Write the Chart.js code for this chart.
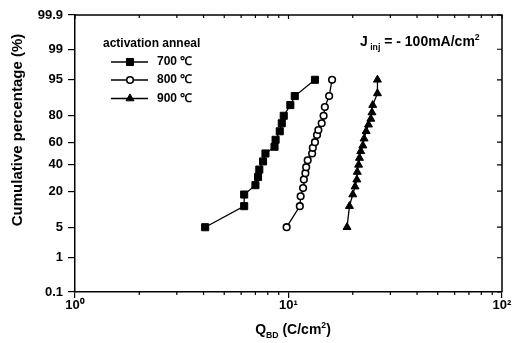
<!DOCTYPE html>
<html>
<head>
<meta charset="utf-8">
<script src="https://cdn.jsdelivr.net/npm/chart.js"></script>
<style>
html, body { margin: 0; padding: 0; background: #fff; }
</style>
</head>
<body>
<canvas id="grafico" width="519" height="343"></canvas>
<script>
// datos (Q_BD en C/cm2, porcentaje acumulado)
const x700 = [4.07, 6.2, 6.2, 7.0, 7.2, 7.3, 7.6, 7.8, 8.6, 8.7, 9.1, 9.3, 9.5, 10.2, 10.7, 13.3];
const y700 = [5, 12, 18, 24, 30, 36, 43, 50, 56, 62, 69, 75, 80, 86, 90, 95];

const x800 = [9.8, 11.3, 11.4, 11.7, 11.8, 12.0, 12.1, 12.3, 12.9, 13.0, 13.3, 13.6, 13.8, 14.3, 14.6, 14.8, 15.5, 16.0];
const y800 = [5, 12, 17, 22, 28, 33, 38, 44, 50, 55, 60, 66, 70, 75, 80, 85, 90, 95];

const x900 = [18.8, 19.3, 20.0, 20.5, 20.9, 21.0, 21.3, 21.5, 21.8, 22.3, 22.6, 23.1, 23.7, 24.3, 24.6, 24.8, 26.1, 26.1];
const y900 = [5, 12, 18, 23, 28, 34, 40, 46, 52, 57, 63, 69, 74, 78, 82, 86, 91, 95];

const etiquetas = ['700 \u2103', '800 \u2103', '900 \u2103'];
const yTicks = [0.1, 1, 5, 20, 40, 60, 80, 95, 99, 99.9];
const xTicks = [1, 10, 100];
const xTickLabels = ['10\u2070', '10\u00b9', '10\u00b2'];
const xMinor = [2, 3, 4, 5, 6, 7, 8, 9, 20, 30, 40, 50, 60, 70, 80, 90];

const FUENTE = '"Liberation Sans", Arial, sans-serif';

// inversa de la normal (Acklam)
function probit(p) {
    const a = [-3.969683028665376e+01, 2.209460984245205e+02, -2.759285104469687e+02, 1.383577518672690e+02, -3.066479806614716e+01, 2.506628277459239e+00];
    const b = [-5.447609879822406e+01, 1.615858368580409e+02, -1.556989798598866e+02, 6.680131188771972e+01, -1.328068155288572e+01];
    const c = [-7.784894002430293e-03, -3.223964580411365e-01, -2.400758277161838e+00, -2.549732539343734e+00, 4.374664141464968e+00, 2.938163982698783e+00];
    const d = [7.784695709041462e-03, 3.224671290700398e-01, 2.445134137142996e+00, 3.754408661907416e+00];
    const pl = 0.02425;
    let q, r;
    if (p < pl) {
        q = Math.sqrt(-2 * Math.log(p));
        return (((((c[0]*q+c[1])*q+c[2])*q+c[3])*q+c[4])*q+c[5]) / ((((d[0]*q+d[1])*q+d[2])*q+d[3])*q+1);
    }
    if (p > 1 - pl) {
        q = Math.sqrt(-2 * Math.log(1 - p));
        return -(((((c[0]*q+c[1])*q+c[2])*q+c[3])*q+c[4])*q+c[5]) / ((((d[0]*q+d[1])*q+d[2])*q+d[3])*q+1);
    }
    q = p - 0.5; r = q * q;
    return (((((a[0]*r+a[1])*r+a[2])*r+a[3])*r+a[4])*r+a[5])*q / (((((b[0]*r+b[1])*r+b[2])*r+b[3])*r+b[4])*r+1);
}

function normCdf(z) {
    const t = 1 / (1 + 0.2316419 * Math.abs(z));
    const dd = 0.3989423 * Math.exp(-z * z / 2);
    let p = dd * t * (0.3193815 + t * (-0.3565638 + t * (1.781478 + t * (-1.821256 + t * 1.330274))));
    return z > 0 ? 1 - p : p;
}

// escala de probabilidad normal
class ProbitScale extends Chart.Scale {
    determineDataLimits() {
        this.min = this.options.min;
        this.max = this.options.max;
    }
    buildTicks() {
        return yTicks.map(v => ({ value: v }));
    }
    configure() {
        super.configure();
        this._zMin = probit(this.min / 100);
        this._zMax = probit(this.max / 100);
    }
    getPixelForValue(v) {
        return this.getPixelForDecimal((probit(v / 100) - this._zMin) / (this._zMax - this._zMin));
    }
    getValueForPixel(px) {
        const dec = this.getDecimalForPixel(px);
        return 100 * normCdf(this._zMin + dec * (this._zMax - this._zMin));
    }
}
ProbitScale.id = 'probit';
ProbitScale.defaults = {};
Chart.register(ProbitScale);

function puntos(xs, ys) {
    return xs.map((x, i) => ({ x: x, y: ys[i] }));
}

// texto con sub/superindices
function textoRico(ctx, partes, x, y, size, align) {
    let total = 0;
    partes.forEach(p => {
        ctx.font = 'bold ' + (p.s ? size * 0.62 : size) + 'px ' + FUENTE;
        total += ctx.measureText(p.t).width;
    });
    let cx = align === 'center' ? x - total / 2 : x;
    ctx.textBaseline = 'alphabetic';
    ctx.textAlign = 'left';
    partes.forEach(p => {
        ctx.font = 'bold ' + (p.s ? size * 0.62 : size) + 'px ' + FUENTE;
        let dy = 0;
        if (p.s === 'sub') dy = size * 0.25;
        if (p.s === 'sup') dy = -size * 0.42;
        ctx.fillText(p.t, cx, y + dy);
        cx += ctx.measureText(p.t).width;
    });
}

const marco = {
    id: 'marco',
    afterDraw(chart) {
        const ctx = chart.ctx;
        const { left, right, top, bottom } = chart.chartArea;
        const xs = chart.scales.x, ys = chart.scales.y;
        ctx.save();
        ctx.strokeStyle = '#000';
        ctx.fillStyle = '#000';
        ctx.lineWidth = 1.5;
        ctx.beginPath();
        ctx.moveTo(left, top); ctx.lineTo(right, top); ctx.lineTo(right, bottom);
        ctx.stroke();
        ctx.lineWidth = 1.2;
        ctx.beginPath();
        xMinor.forEach(v => {
            const px = xs.getPixelForValue(v);
            ctx.moveTo(px, bottom); ctx.lineTo(px, bottom + 3);
            ctx.moveTo(px, top); ctx.lineTo(px, top + 3);
        });
        xTicks.forEach(v => {
            const px = xs.getPixelForValue(v);
            ctx.moveTo(px, top); ctx.lineTo(px, top + 4);
        });
        yTicks.forEach(v => {
            const py = ys.getPixelForValue(v);
            ctx.moveTo(right - 5, py); ctx.lineTo(right, py);
        });
        ctx.stroke();

        // titulos de ejes
        ctx.save();
        ctx.translate(18, 130);
        ctx.rotate(-Math.PI / 2);
        ctx.font = 'bold 15px ' + FUENTE;
        ctx.textAlign = 'center';
        ctx.textBaseline = 'middle';
        ctx.fillText('Cumulative percentage (%)', 0, 0);
        ctx.restore();

        textoRico(ctx, [{ t: 'Q' }, { t: 'BD', s: 'sub' }, { t: ' (C/cm' }, { t: '2', s: 'sup' }, { t: ')' }], 293, 334, 14, 'center');
        textoRico(ctx, [{ t: 'J' }, { t: ' inj', s: 'sub' }, { t: ' = - 100mA/cm' }, { t: '2', s: 'sup' }], 360, 46, 14, 'left');

        // leyenda
        ctx.font = 'bold 12px ' + FUENTE;
        ctx.textAlign = 'left';
        ctx.textBaseline = 'middle';
        ctx.fillText('activation anneal', 103, 44);
        const filas = [62, 80, 98.5];
        chart.data.datasets.forEach((ds, i) => {
            const y = filas[i];
            ctx.lineWidth = ds.borderWidth;
            ctx.strokeStyle = ds.borderColor;
            ctx.beginPath(); ctx.moveTo(111, y); ctx.lineTo(148, y); ctx.stroke();
            const r = ds.pointRadius;
            ctx.fillStyle = ds.pointBackgroundColor;
            ctx.lineWidth = ds.pointBorderWidth;
            ctx.beginPath();
            if (ds.pointStyle === 'rect') {
                const s = r * Math.SQRT1_2;
                ctx.rect(130 - s, y - s, 2 * s, 2 * s);
            } else if (ds.pointStyle === 'circle') {
                ctx.arc(130, y, r, 0, Math.PI * 2);
            } else {
                ctx.moveTo(130, y - r);
                ctx.lineTo(130 + r * 0.866, y + r * 0.5);
                ctx.lineTo(130 - r * 0.866, y + r * 0.5);
                ctx.closePath();
            }
            ctx.fill(); ctx.stroke();
            ctx.fillStyle = '#000';
            ctx.fillText(etiquetas[i], 157, y);
        });
        ctx.restore();
    }
};

const serie = (datos, estilo, radio, relleno, borde) => ({
    data: datos,
    showLine: true,
    borderColor: '#000',
    borderWidth: 1.3,
    pointStyle: estilo,
    pointRadius: radio,
    pointBackgroundColor: relleno,
    pointBorderColor: '#000',
    pointBorderWidth: borde
});

new Chart(document.getElementById('grafico').getContext('2d'), {
    type: 'scatter',
    data: {
        datasets: [
            serie(puntos(x700, y700), 'rect', 5, '#000', 1),
            serie(puntos(x800, y800), 'circle', 3.3, '#fff', 1.6),
            serie(puntos(x900, y900), 'triangle', 4.6, '#000', 1)
        ]
    },
    options: {
        responsive: false,
        animation: false,
        devicePixelRatio: 1,
        layout: { padding: { left: 0, top: 15, right: 17, bottom: 0 } },
        plugins: { legend: { display: false }, tooltip: { enabled: false } },
        scales: {
            x: {
                type: 'logarithmic',
                position: 'bottom',
                min: 1,
                max: 100,
                afterBuildTicks: s => { s.ticks = xTicks.map(v => ({ value: v, major: true })); },
                afterFit: s => { s.height = 51; },
                grid: { drawOnChartArea: false, color: '#000', lineWidth: 1.2, tickLength: 6 },
                border: { color: '#000', width: 1.5 },
                ticks: {
                    autoSkip: false, maxRotation: 0, padding: 0, color: '#000',
                    font: { family: FUENTE, size: 13, weight: 'bold' },
                    callback: v => { const i = xTicks.indexOf(v); return i >= 0 ? xTickLabels[i] : ''; }
                }
            },
            y: {
                type: 'probit',
                position: 'left',
                min: 0.1,
                max: 99.9,
                afterFit: s => { s.width = 75; },
                grid: { drawOnChartArea: false, color: '#000', lineWidth: 1.2, tickLength: 7 },
                border: { color: '#000', width: 1.5 },
                ticks: {
                    autoSkip: false, padding: 5, color: '#000',
                    font: { family: FUENTE, size: 13, weight: 'bold' },
                    callback: v => String(v)
                }
            }
        }
    },
    plugins: [marco]
});
</script>
</body>
</html>
